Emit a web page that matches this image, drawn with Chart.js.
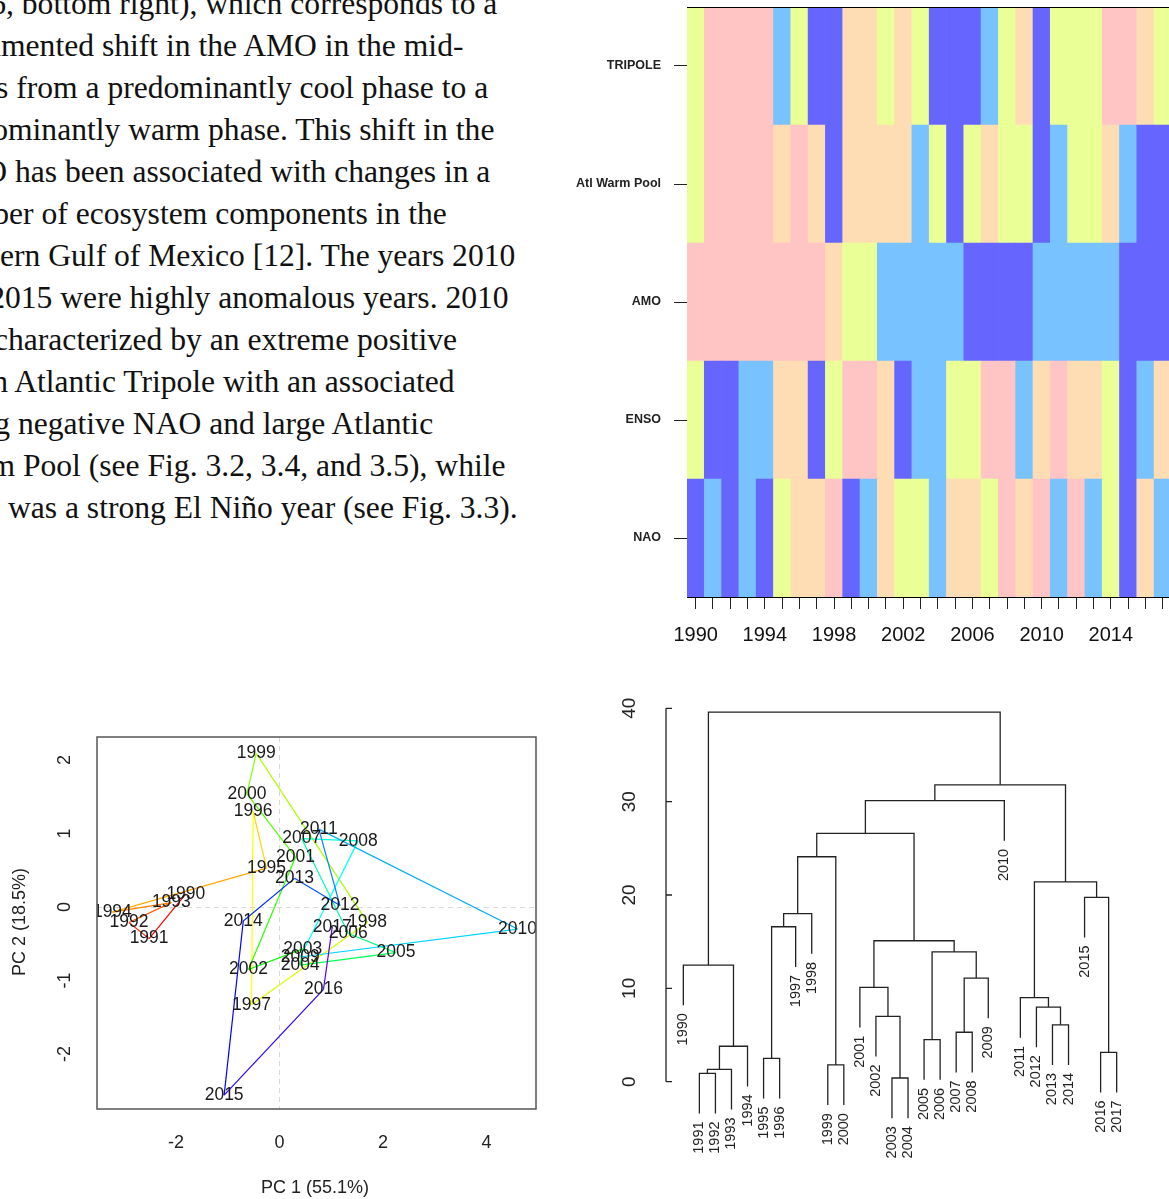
<!DOCTYPE html>
<html>
<head>
<meta charset="utf-8">
<script src="https://cdn.jsdelivr.net/npm/chart.js@4.4.1/dist/chart.umd.min.js"></script>
<style>
  html, body { margin: 0; padding: 0; background: #fff; }
  body { width: 1169px; height: 1199px; overflow: hidden; position: relative; }
  canvas { position: absolute; }
  .ln { position: absolute; white-space: pre; font: 31.6px 'Liberation Serif', 'Times New Roman', serif; line-height: 31.6px; color: #111; }
  .pre { position: absolute; right: 100%; top: 0; }
</style>
</head>
<body>
<div id="text"></div>
<canvas id="heat" width="620" height="660" style="left:560px;top:0"></canvas>
<canvas id="pca" width="560" height="499" style="left:0;top:700px"></canvas>
<canvas id="dend" width="609" height="519" style="left:560px;top:680px"></canvas>
<script>
// === data ===
const years = ['1990','1991','1992','1993','1994','1995','1996','1997','1998','1999',
  '2000','2001','2002','2003','2004','2005','2006','2007','2008','2009',
  '2010','2011','2012','2013','2014','2015','2016','2017'];

// heatmap: quintile class per year, 1 = lowest (pink) ... 5 = highest (dark blue)
const rowNames = ['NAO', 'ENSO', 'AMO', 'Atl Warm Pool', 'TRIPOLE'];
const naoClass     = [5,4,5,4,5,3,2,2,1,5,4,2,3,3,4,2,2,3,1,2,1,4,1,4,3,5,2,4];
const ensoClass    = [3,5,5,4,4,2,2,5,3,1,1,2,5,4,4,3,3,1,1,4,2,1,2,2,3,5,4,2];
const amoClass     = [1,1,1,1,1,1,1,1,2,3,3,4,4,4,4,4,5,5,5,5,4,4,4,4,4,5,5,5];
const warmClass    = [3,1,1,1,1,2,1,2,5,2,2,2,2,4,3,5,3,2,3,3,5,4,3,3,2,4,5,5];
const tripoleClass = [3,1,1,1,1,4,3,5,5,2,2,3,2,3,5,5,5,4,3,2,5,3,3,3,1,1,2,3];
const classColors = ['#FFC4C4', '#FFDDB4', '#EAFF95', '#78C2FF', '#6666FF'];

// PCA scores
const pc1 = [-1.81,-2.52,-2.91,-2.09,-3.23,-0.25,-0.51,-0.54,1.70,-0.45,
  -0.63,0.31,-0.60,0.45,0.40,2.25,1.33,0.43,1.52,0.40,
  4.60,0.76,1.17,0.29,-0.70,-1.07,0.85,1.02];
const pc2 = [0.18,-0.43,-0.21,0.06,-0.07,0.53,1.30,-1.33,-0.21,2.09,
  1.54,0.68,-0.85,-0.57,-0.79,-0.62,-0.36,0.93,0.90,-0.68,
  -0.30,1.06,0.02,0.39,-0.19,-2.56,-1.12,-0.27];
const pcaXTicks = [-2, 0, 2, 4];
const pcaYTicks = [-2, -1, 0, 1, 2];

// hierarchical clustering (R style merge table: negative = leaf, positive = earlier row)
const mergeLeft   = [-14, -2, 2, -10, -6, -27, 3, -16, -18, -24, -13, -23, -22, -12, 9, -1, 8, 14, 5, 19, -26, 13, 20, 23, 24, 25, 16];
const mergeRight  = [-15, -3, -4, -11, -7, -28, -5, -17, -19, -25, 1, 10, 12, 11, -20, 7, 15, 17, -8, -9, 6, 21, 4, 18, -21, 22, 26];
const mergeHeight = [0.4, 0.9, 1.33, 1.8, 2.5, 3.15, 3.8, 4.5, 5.3, 6.1, 7.0, 8.0, 9.0, 10.1, 11.1, 12.5, 13.9, 15.1, 16.6, 18.0, 19.75, 21.4, 24.1, 26.6, 30.1, 31.8, 39.6];
const dendTicks = [0, 10, 20, 30, 40];
const hang = 4.3;

// paragraph lines: [left of visible part, clipped prefix, visible part]
const textLines = [
  [6, '(see Fig. 3.6', ', bottom right), which corresponds to a'],
  [1, 'docu', 'mented shift in the AMO in the mid-'],
  [-4, '1990', 's from a predominantly cool phase to a'],
  [8, 'predo', 'minantly warm phase. This shift in the'],
  [7, 'AMO', ' has been associated with changes in a'],
  [9, 'numb', 'er of ecosystem components in the'],
  [0, 'north', 'ern Gulf of Mexico [12]. The years 2010'],
  [5, 'and 2', '015 were highly anomalous years. 2010'],
  [8, 'was c', 'haracterized by an extreme positive'],
  [8, 'northern', ' Atlantic Tripole with an associated'],
  [10, 'strong', ' negative NAO and large Atlantic'],
  [15, 'Warm', ' Pool (see Fig. 3.2, 3.4, and 3.5), while'],
  [0, '2015', ' was a strong El Niño year (see Fig. 3.3).']
];

const textBox = document.getElementById('text');
textLines.forEach(([left, pre, txt], i) => {
  const div = document.createElement('div');
  div.className = 'ln';
  div.style.left = left + 'px';
  div.style.top = (-12.5 + 42.08 * i) + 'px';
  const p = document.createElement('span');
  p.className = 'pre';
  p.textContent = pre;
  div.appendChild(p);
  div.appendChild(document.createTextNode(txt));
  textBox.appendChild(div);
});

Chart.defaults.font.family = "'Liberation Sans', Arial, sans-serif";
Chart.defaults.animation = false;

function vText(ctx, txt, x, y, align) {
  ctx.save();
  ctx.translate(x, y);
  ctx.rotate(-Math.PI / 2);
  ctx.textAlign = align;
  ctx.textBaseline = 'middle';
  ctx.fillText(txt, 0, 0);
  ctx.restore();
}

// strip the automatic label padding so the plot box lands where we want it
function noPad(s) {
  s.paddingTop = 0; s.paddingBottom = 0; s.paddingLeft = 0; s.paddingRight = 0;
}

// === heatmap ===
const rowClasses = [naoClass, ensoClass, amoClass, warmClass, tripoleClass];

const boxTop = {
  id: 'boxTop',
  afterDraw(chart) {
    const { ctx, chartArea: a } = chart;
    ctx.save();
    ctx.strokeStyle = '#000';
    ctx.lineWidth = 1;
    ctx.beginPath();
    ctx.moveTo(a.left, a.top + 0.5);
    ctx.lineTo(a.right, a.top + 0.5);
    ctx.stroke();
    ctx.restore();
  }
};

new Chart(document.getElementById('heat'), {
  type: 'bar',
  data: {
    labels: years,
    datasets: rowClasses.map((cls, r) => ({
      label: rowNames[r],
      data: cls.map(() => 1),
      backgroundColor: cls.map(c => classColors[c - 1]),
      borderWidth: 0,
      barPercentage: 1,
      categoryPercentage: 1
    }))
  },
  options: {
    responsive: false,
    layout: { padding: { top: 7, right: 8.6, left: 0, bottom: 0 } },
    plugins: { legend: { display: false }, tooltip: { enabled: false } },
    scales: {
      x: {
        stacked: true,
        grid: { offset: false, drawOnChartArea: false, tickLength: 12, color: '#222' },
        border: { display: true, color: '#000' },
        ticks: {
          autoSkip: false, maxRotation: 0, minRotation: 0,
          callback: (v, i) => (i % 4 === 0 ? years[i] : ''),
          font: { size: 20 }, color: '#111', padding: 14
        },
        afterFit: s => { s.height = 63; noPad(s); }
      },
      y: {
        stacked: true, min: 0, max: 5,
        afterBuildTicks: s => { s.ticks = rowNames.map((_, i) => ({ value: i + 0.5 })); },
        ticks: { callback: (v, i) => rowNames[i], font: { size: 12.5, weight: 'bold' }, color: '#222', padding: 13 },
        grid: { drawOnChartArea: false, tickLength: 13, color: '#222' },
        border: { display: true, color: '#000' },
        afterFit: s => { s.width = 127; noPad(s); }
      }
    }
  },
  plugins: [boxTop]
});

// === PCA biplot ===
const pcaDecor = {
  id: 'pcaDecor',
  afterDatasetsDraw(chart) {
    const { ctx, chartArea: a, scales: { x, y } } = chart;
    ctx.save();
    ctx.beginPath();
    ctx.rect(a.left, a.top, a.right - a.left, a.bottom - a.top);
    ctx.clip();
    ctx.font = "17.5px 'Liberation Sans', Arial, sans-serif";
    ctx.fillStyle = '#1a1a1a';
    ctx.textAlign = 'center';
    ctx.textBaseline = 'middle';
    years.forEach((yr, i) => {
      ctx.fillText(yr, x.getPixelForValue(pc1[i]), y.getPixelForValue(pc2[i]));
    });
    ctx.restore();

    ctx.save();
    ctx.strokeStyle = '#555';
    ctx.lineWidth = 1.5;
    ctx.strokeRect(a.left, a.top, a.right - a.left, a.bottom - a.top);
    ctx.fillStyle = '#222';
    ctx.font = "18px 'Liberation Sans', Arial, sans-serif";
    pcaYTicks.forEach(v => vText(ctx, String(v), 65, y.getPixelForValue(v), 'center'));
    vText(ctx, 'PC 2 (18.5%)', 20, 222, 'center');
    ctx.textAlign = 'center';
    ctx.textBaseline = 'middle';
    ctx.fillText('PC 1 (55.1%)', 315, 488);
    ctx.restore();
  }
};

const zeroGrid = c => (c.tick && c.tick.value === 0 ? '#d9d9d9' : 'rgba(0,0,0,0)');

new Chart(document.getElementById('pca'), {
  type: 'scatter',
  data: {
    datasets: [{
      data: years.map((yr, i) => ({ x: pc1[i], y: pc2[i] })),
      showLine: true,
      pointRadius: 0,
      borderWidth: 1.2,
      borderColor: '#f00',
      segment: { borderColor: c => `hsl(${c.p0DataIndex * 10}, 100%, 50%)` }
    }]
  },
  options: {
    responsive: false,
    layout: { padding: { top: 37, right: 24, left: 0, bottom: 0 } },
    plugins: { legend: { display: false }, tooltip: { enabled: false } },
    scales: {
      x: {
        type: 'linear', min: -3.527, max: 4.957,
        afterBuildTicks: s => { s.ticks = pcaXTicks.map(v => ({ value: v })); },
        ticks: { font: { size: 18 }, color: '#222', padding: 23 },
        grid: { drawTicks: false, color: zeroGrid },
        border: { display: false, dash: [5, 4] },
        afterFit: s => { s.height = 90; noPad(s); }
      },
      y: {
        type: 'linear', min: -2.748, max: 2.313,
        afterBuildTicks: s => { s.ticks = pcaYTicks.map(v => ({ value: v })); },
        ticks: { display: false },
        grid: { drawTicks: false, color: zeroGrid },
        border: { display: false, dash: [5, 4] },
        afterFit: s => { s.width = 97; noPad(s); }
      }
    }
  },
  plugins: [pcaDecor]
});

// === dendrogram ===
const nodeX = [];
const leafEnd = [];
const dendSets = mergeHeight.map((h, m) => {
  const L = mergeLeft[m], R = mergeRight[m];
  const lx = L < 0 ? -L : nodeX[L - 1];
  const ly = L < 0 ? h - hang : mergeHeight[L - 1];
  const rx = R < 0 ? -R : nodeX[R - 1];
  const ry = R < 0 ? h - hang : mergeHeight[R - 1];
  if (L < 0) leafEnd[-L - 1] = ly;
  if (R < 0) leafEnd[-R - 1] = ry;
  nodeX[m] = (lx + rx) / 2;
  return {
    data: [{ x: lx, y: ly }, { x: lx, y: h }, { x: rx, y: h }, { x: rx, y: ry }],
    showLine: true, pointRadius: 0, borderWidth: 1.3, borderColor: '#222'
  };
});

const dendDecor = {
  id: 'dendDecor',
  afterDraw(chart) {
    const { ctx, chartArea: a, scales: { x, y } } = chart;
    ctx.save();
    ctx.strokeStyle = '#222';
    ctx.lineWidth = 1.3;
    const ax = a.left;
    ctx.beginPath();
    ctx.moveTo(ax, y.getPixelForValue(0));
    ctx.lineTo(ax, y.getPixelForValue(40));
    dendTicks.forEach(v => {
      const py = y.getPixelForValue(v);
      ctx.moveTo(ax, py);
      ctx.lineTo(ax + 6, py);
    });
    ctx.stroke();
    ctx.fillStyle = '#222';
    ctx.font = "19px 'Liberation Sans', Arial, sans-serif";
    dendTicks.forEach(v => vText(ctx, String(v), 70, y.getPixelForValue(v), 'center'));
    ctx.font = "14.5px 'Liberation Sans', Arial, sans-serif";
    years.forEach((yr, i) => {
      vText(ctx, yr, x.getPixelForValue(i + 1), y.getPixelForValue(leafEnd[i]) + 8, 'right');
    });
    ctx.restore();
  }
};

new Chart(document.getElementById('dend'), {
  type: 'scatter',
  data: { datasets: dendSets },
  options: {
    responsive: false,
    layout: { padding: { left: 106, right: 35, top: 28.3, bottom: 70.6 } },
    plugins: { legend: { display: false }, tooltip: { enabled: false } },
    scales: {
      x: { type: 'linear', min: -0.08, max: 29.08, display: false },
      y: { type: 'linear', min: -5, max: 40, display: false }
    }
  },
  plugins: [dendDecor]
});
</script>
</body>
</html>
